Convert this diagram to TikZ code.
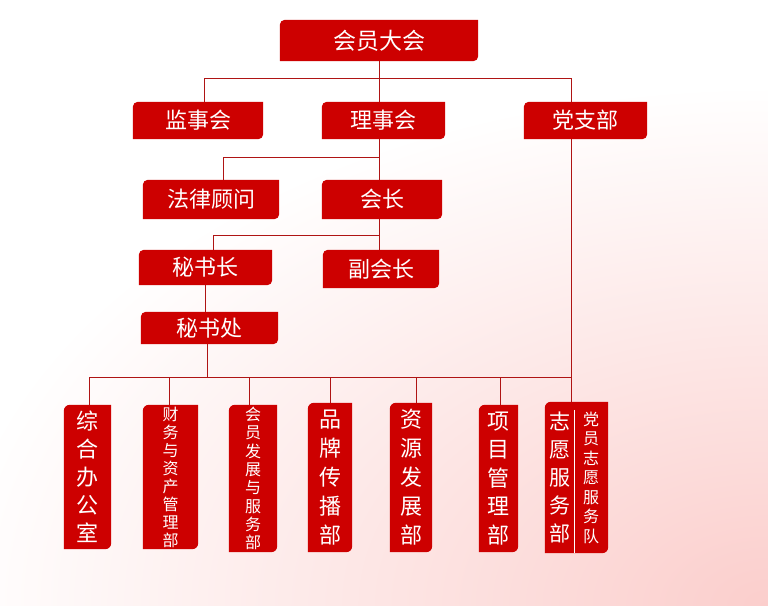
\documentclass[tikz,border=0pt]{standalone}
\usepackage{fontspec}
\setmainfont{Noto Sans CJK SC}
\usetikzlibrary{backgrounds,calc}
\definecolor{boxred}{RGB}{205,0,0}
\definecolor{linered}{RGB}{175,20,20}
\definecolor{bgpink}{RGB}{251,206,204}
\newcommand\leafshape[2][5pt]{%
  \fill[boxred] (#2.south west) -- ([yshift=-#1]#2.north west)
    arc[start angle=180,end angle=90,radius=#1] -- (#2.north east)
    -- ([yshift=#1]#2.south east) arc[start angle=0,end angle=-90,radius=#1] -- cycle;}
\begin{document}
\begin{tikzpicture}[x=1pt,y=1pt,
  orgbox/.style={inner sep=0pt, text=white, font=\fontsize{22}{22}\selectfont},
  vbox/.style={inner sep=0pt, text=white, align=center},
  conn/.style={draw=linered, line width=1pt}]
\useasboundingbox (0,0) rectangle (768,-605);
% top levels
\node[orgbox, font=\fontsize{23}{23}\selectfont, minimum width=198pt, minimum height=41pt] (hy) at (379,-40.5) {会员大会};
\node[orgbox, minimum width=130pt, minimum height=37pt] (js) at (198,-120.5) {监事会};
\node[orgbox, minimum width=123pt, minimum height=37pt] (ls) at (383.5,-120.5) {理事会};
\node[orgbox, minimum width=123pt, minimum height=37pt] (dz) at (585.5,-120.5) {党支部};
\node[orgbox, minimum width=136pt, minimum height=39pt] (fl) at (211,-199.5) {法律顾问};
\node[orgbox, minimum width=120pt, minimum height=39pt] (hz) at (382,-199.5) {会长};
\node[orgbox, minimum width=133pt, minimum height=35pt] (msz) at (205.5,-267.5) {秘书长};
\node[orgbox, minimum width=116pt, minimum height=38pt] (fhz) at (381,-269) {副会长};
\node[orgbox, minimum width=137pt, minimum height=32pt] (msc) at (209.5,-328) {秘书处};
% departments
\node[vbox, font=\fontsize{22}{28}\selectfont, minimum width=47pt, minimum height=144pt] (v1) at (87.5,-477) {综\\合\\办\\公\\室};
\node[vbox, font=\fontsize{16}{18}\selectfont, minimum width=55pt, minimum height=144pt] (v2) at (170.5,-477) {财\\务\\与\\资\\产\\管\\理\\部};
\node[vbox, font=\fontsize{16}{18.3}\selectfont, minimum width=48pt, minimum height=147pt] (v3) at (253,-478.5) {会\\员\\发\\展\\与\\服\\务\\部};
\node[vbox, font=\fontsize{22}{29}\selectfont, minimum width=44pt, minimum height=149pt] (v4) at (330,-477.5) {品\\牌\\传\\播\\部};
\node[vbox, font=\fontsize{22}{29}\selectfont, minimum width=42pt, minimum height=149pt] (v5) at (411,-477.5) {资\\源\\发\\展\\部};
\node[vbox, font=\fontsize{22}{28.5}\selectfont, minimum width=39pt, minimum height=147pt] (v6) at (498.5,-478.5) {项\\目\\管\\理\\部};
\node[vbox, font=\fontsize{21}{28}\selectfont, minimum width=29pt, minimum height=151pt] (zy) at (559.5,-477.5) {志\\愿\\服\\务\\部};
\node[vbox, font=\fontsize{16}{19.5}\selectfont, minimum width=34pt, minimum height=151pt] (dy) at (591,-477.5) {党\\员\\志\\愿\\服\\务\\队};
% background and boxes
\begin{scope}[on background layer]
  \fill[white] (0,0) rectangle (768,-605);
  \begin{scope}
    \clip (0,0) rectangle (768,-605);
    \shade[inner color=bgpink, outer color=white] (768,-605) ellipse [x radius=820pt, y radius=520pt];
  \end{scope}
  \foreach \n in {hy,js,ls,dz,fl,hz,msz,fhz,msc} {\leafshape{\n}}
  \foreach \n in {v1,v2,v3,v4,v5,v6} {\leafshape[6pt]{\n}}
  \fill[boxred] (zy.south west) -- ([yshift=-6pt]zy.north west)
    arc[start angle=180,end angle=90,radius=6pt] -- (dy.north east)
    -- ([yshift=6pt]dy.south east) arc[start angle=0,end angle=-90,radius=6pt] -- cycle;
\end{scope}
\draw[white, line width=0.8pt] ([yshift=-8pt]zy.north east) -- (zy.south east);
% connectors
\coordinate (t1) at (379,-78);
\coordinate (bL) at (204,-78);
\coordinate (bR) at (571,-78);
\draw[conn] (hy.south) -- (t1);
\draw[conn] (bL |- js.north) -- (bL) -- (bR) -- (bR |- dz.north);
\draw[conn] (t1) -- (t1 |- ls.north);
\draw[conn] (t1 |- ls.south) -- (t1 |- hz.north);
\coordinate (f1) at (379,-157);
\coordinate (f2) at (223,-157);
\draw[conn] (f1) -- (f2) -- (f2 |- fl.north);
\draw[conn] (t1 |- hz.south) -- (t1 |- fhz.north);
\coordinate (m1) at (379,-235);
\coordinate (m2) at (213,-235);
\draw[conn] (m1) -- (m2) -- (m2 |- msz.north);
\draw[conn] (msz.south) -- (msz.south |- msc.north);
\coordinate (s0) at (207,-377);
\draw[conn] (s0 |- msc.south) -- (s0);
\coordinate (d1) at (89,-377);
\coordinate (d2) at (169,-377);
\coordinate (d3) at (249,-377);
\coordinate (d4) at (330,-377);
\coordinate (d5) at (416,-377);
\coordinate (d6) at (500,-377);
\coordinate (d7) at (571,-377);
\draw[conn] (d1) -- (d7);
\draw[conn] (bR |- dz.south) -- (bR |- zy.north);
\draw[conn] (d1) -- (d1 |- v1.north);
\draw[conn] (d2) -- (d2 |- v2.north);
\draw[conn] (d3) -- (d3 |- v3.north);
\draw[conn] (d4) -- (d4 |- v4.north);
\draw[conn] (d5) -- (d5 |- v5.north);
\draw[conn] (d6) -- (d6 |- v6.north);
\end{tikzpicture}
\end{document}
